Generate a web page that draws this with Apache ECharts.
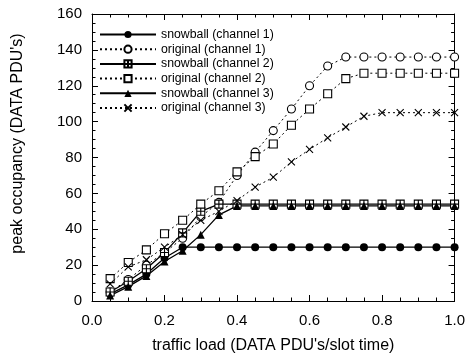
<!DOCTYPE html>
<html>
<head>
<meta charset="utf-8">
<script src="https://cdn.jsdelivr.net/npm/echarts@6/dist/echarts.min.js"></script>
<style>
  html, body { margin: 0; padding: 0; background: #fff; }
  #chart { width: 468px; height: 359px; }
</style>
</head>
<body>
<div id="chart"></div>
<script>
// traffic load (DATA PDU's per slot time)
const loads = [0.05, 0.10, 0.15, 0.20, 0.25, 0.30, 0.35, 0.40, 0.45, 0.50,
               0.55, 0.60, 0.65, 0.70, 0.75, 0.80, 0.85, 0.90, 0.95, 1.00];

// peak occupancy (DATA PDU's)
const snowballCh1 = [4, 9, 15, 24, 30, 30, 30, 30, 30, 30, 30, 30, 30, 30, 30, 30, 30, 30, 30, 30];
const originalCh1 = [5, 12, 20, 27, 35, 47, 55, 70, 83, 95, 107, 120, 131, 136, 136, 136, 136, 136, 136, 136];
const snowballCh2 = [5, 11, 18, 27, 38, 50, 54, 54, 54, 54, 54, 54, 54, 54, 54, 54, 54, 54, 54, 54];
const originalCh2 = [12.5, 21.5, 28.5, 37.5, 45, 54, 61.5, 72, 80.5, 87.5, 98, 107, 115.5, 124, 127, 127, 127, 127, 127, 127];
const snowballCh3 = [3, 8, 14, 22, 28, 37, 48, 53, 53, 53, 53, 53, 53, 53, 53, 53, 53, 53, 53, 53];
const originalCh3 = [9.5, 19, 23, 30, 37, 45, 50, 56, 63.5, 69, 77.5, 84.5, 91, 97, 103, 105, 105, 105, 105, 105];

const xTicks = { min: 0, max: 1, interval: 0.2 };
const yTicks = { min: 0, max: 160, interval: 20 };

const FONT = '"Liberation Sans", Arial, Helvetica, sans-serif';
const INK = '#000';

// marker shapes
const boxedPlus = 'path://M0,0H10V10H0Z M5,0V10 M0,5H10';
const cross = 'path://M0,0L10,10 M10,0L0,10';

function pairs(vals) {
  return loads.map((x, i) => [x, vals[i]]);
}

function makeSeries(name, vals, symbol, symbolSize, dotted, filled) {
  return {
    name: name,
    type: 'line',
    data: pairs(vals),
    symbol: symbol,
    symbolSize: symbolSize,
    showAllSymbol: true,
    animation: false,
    lineStyle: { color: INK, width: dotted ? 1 : 1.3, type: dotted ? [2, 3] : 'solid' },
    itemStyle: filled
      ? { color: INK, borderColor: INK, borderWidth: 0 }
      : { color: '#fff', borderColor: INK, borderWidth: 1.1 },
    emphasis: { disabled: true }
  };
}

const series = [
  makeSeries('snowball (channel 1)', snowballCh1, 'circle', 8, false, true),
  makeSeries('original (channel 1)', originalCh1, 'circle', 8, true, false),
  makeSeries('snowball (channel 2)', snowballCh2, boxedPlus, 8, false, false),
  makeSeries('original (channel 2)', originalCh2, 'rect', 8, true, false),
  makeSeries('snowball (channel 3)', snowballCh3, 'triangle', 8, false, true),
  makeSeries('original (channel 3)', originalCh3, cross, 7, true, false)
];

const tickCommon = {
  axisLine: { show: true, onZero: false, lineStyle: { color: INK, width: 1 } },
  axisTick: { show: true, inside: true, length: 6, lineStyle: { color: INK, width: 1 } },
  minorTick: { show: true, splitNumber: 4, length: 3.5, lineStyle: { color: INK, width: 1 } },
  splitLine: { show: false },
  minorSplitLine: { show: false }
};

const chart = echarts.init(document.getElementById('chart'), null, { renderer: 'canvas' });
chart.setOption({
  animation: false,
  backgroundColor: '#fff',
  textStyle: { fontFamily: FONT, color: INK },
  grid: { left: 92, right: 11, top: 14, bottom: 56 },
  legend: {
    orient: 'vertical',
    left: 99,
    top: 28,
    padding: 0,
    itemWidth: 56,
    itemHeight: 9,
    itemGap: 1.7,
    textStyle: { fontFamily: FONT, fontSize: 12.3, color: INK, lineHeight: 13 },
    data: series.map(s => s.name),
    selectedMode: false
  },
  xAxis: [
    Object.assign({
      type: 'value', position: 'bottom',
      min: xTicks.min, max: xTicks.max, interval: xTicks.interval,
      name: "traffic load (DATA PDU's/slot time)",
      nameLocation: 'middle', nameGap: 37,
      nameTextStyle: { fontFamily: FONT, fontSize: 16, color: INK },
      axisLabel: { fontFamily: FONT, fontSize: 15, color: INK, margin: 12,
                   formatter: v => v.toFixed(1) }
    }, tickCommon),
    Object.assign({
      type: 'value', position: 'top',
      min: xTicks.min, max: xTicks.max, interval: xTicks.interval,
      axisLabel: { show: false }
    }, tickCommon)
  ],
  yAxis: [
    Object.assign({
      type: 'value', position: 'left',
      min: yTicks.min, max: yTicks.max, interval: yTicks.interval,
      name: "peak occupancy (DATA PDU's)",
      nameLocation: 'middle', nameGap: 66,
      nameTextStyle: { fontFamily: FONT, fontSize: 16, color: INK, padding: [0, 0, 0, 28] },
      axisLabel: { fontFamily: FONT, fontSize: 15, color: INK, margin: 10 }
    }, tickCommon),
    Object.assign({
      type: 'value', position: 'right',
      min: yTicks.min, max: yTicks.max, interval: yTicks.interval,
      axisLabel: { show: false }
    }, tickCommon)
  ],
  series: series
});
</script>
</body>
</html>
